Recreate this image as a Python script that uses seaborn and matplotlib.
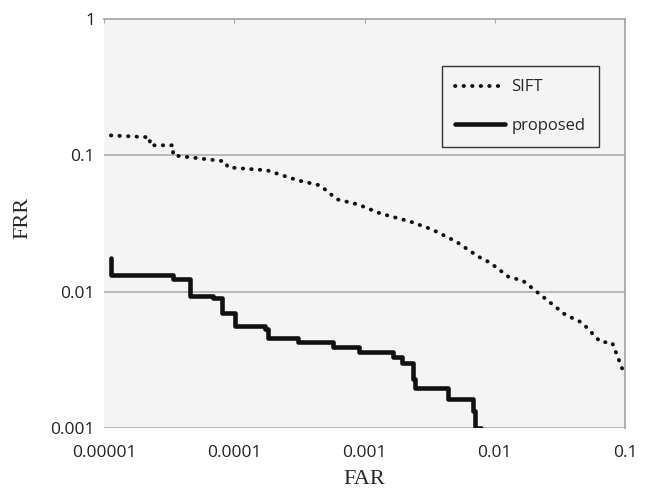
import matplotlib
matplotlib.use("Agg")
import matplotlib.pyplot as plt
import seaborn as sns
import pandas as pd

# SIFT curve (dotted)
sift_far = [1.13e-5, 2.25e-5, 2.25e-5, 3.39e-5, 3.39e-5, 8.49e-5, 8.95e-5, 1.79e-4,
            3.09e-4, 4.56e-4, 6.17e-4, 8.94e-4, 1.32e-3, 2.24e-3, 3.30e-3, 5.06e-3,
            7.46e-3, 9.23e-3, 0.01268, 0.01652, 0.0244, 0.0348, 0.0469, 0.0646,
            0.0798, 0.1]
sift_frr = [0.140, 0.1356, 0.1185, 0.1185, 0.100, 0.0903, 0.0816, 0.0776,
            0.0655, 0.0602, 0.0475, 0.0436, 0.0375, 0.0327, 0.0286, 0.0233,
            0.0181, 0.0163, 0.0129, 0.0120, 0.0089, 0.00678, 0.00592, 0.00429,
            0.00422, 0.00241]

# proposed curve (solid, stepped)
prop_far = [1.13e-5, 1.13e-5, 3.39e-5, 4.57e-5, 6.87e-5, 8.05e-5, 1.01e-4, 1.73e-4,
            1.82e-4, 3.09e-4, 5.74e-4, 9.10e-4, 1.66e-3, 1.95e-3, 2.36e-3, 2.45e-3,
            4.39e-3, 6.82e-3, 7.07e-3, 7.87e-3]
prop_frr = [0.0178, 0.01334, 0.01247, 0.00935, 0.00904, 0.00701, 0.00562, 0.00535,
            0.00459, 0.00429, 0.00394, 0.00362, 0.00333, 0.00301, 0.00229, 0.00197,
            0.00163, 0.00133, 0.001, 0.001]

x_ticks = [1e-5, 1e-4, 1e-3, 1e-2, 1e-1]
x_labels = ["0.00001", "0.0001", "0.001", "0.01", "0.1"]
y_ticks = [1e-3, 1e-2, 1e-1, 1]
y_labels = ["0.001", "0.01", "0.1", "1"]

sift = pd.DataFrame({"FAR": sift_far, "FRR": sift_frr})
prop = pd.DataFrame({"FAR": prop_far, "FRR": prop_frr})

sns.set_style("white", {"axes.facecolor": "#f4f4f4"})
plt.rcParams["font.family"] = ["Open Sans", "DejaVu Sans"]

fig = plt.figure(figsize=(6.48, 4.91), dpi=100)
ax = fig.add_axes([0.1605, 0.1283, 0.804, 0.833])

sns.lineplot(data=sift, x="FAR", y="FRR", ax=ax, sort=False, estimator=None,
             color="#111111", linewidth=2.8, linestyle=(0, (0.1, 2.1)),
             dash_capstyle="round", solid_capstyle="round", label="SIFT")
sns.lineplot(data=prop, x="FAR", y="FRR", ax=ax, sort=False, estimator=None,
             color="#111111", linewidth=3.3, drawstyle="steps-post",
             label="proposed")

ax.set_xscale("log")
ax.set_yscale("log")
ax.set_xlim(1e-5, 0.1)
ax.set_ylim(1e-3, 1)

# horizontal gridlines, bottom one doubles as the x axis
for y in [1e-3, 1e-2, 1e-1]:
    ax.axhline(y, color="#b4b4b4", linewidth=1.3, zorder=0.5)

ax.set_xticks(x_ticks)
ax.set_xticklabels(x_labels, fontsize=12.5, color="#222222")
ax.set_yticks(y_ticks)
ax.set_yticklabels(y_labels, fontsize=12.5, color="#222222")
ax.minorticks_off()
ax.tick_params(axis="x", which="major", bottom=False, top=True, direction="in",
               length=3, color="#a8a8a8", labelbottom=True, labeltop=False, pad=12)
ax.tick_params(axis="y", which="major", left=False, pad=3)

ax.set_xlabel("FAR", family="Liberation Serif", fontsize=16)
ax.set_ylabel("FRR", family="Liberation Serif", fontsize=16)
ax.xaxis.set_label_coords(0.5, -0.103)
ax.yaxis.set_label_coords(-0.137, 0.513)

ax.spines["left"].set_visible(False)
ax.spines["bottom"].set_visible(False)
for s in ["top", "right"]:
    ax.spines[s].set_color("#a8a8a8")
    ax.spines[s].set_linewidth(1.3)

leg = ax.legend(loc="upper left", bbox_to_anchor=(0.649, 0.885), borderaxespad=0,
                fontsize=12, frameon=True, fancybox=False, framealpha=1,
                facecolor="#f4f4f4", edgecolor="#333333", labelspacing=1.35,
                handlelength=3.0, handletextpad=0.35, borderpad=0.8)
leg.get_frame().set_linewidth(1.0)

fig.savefig("out.png", dpi=100)
